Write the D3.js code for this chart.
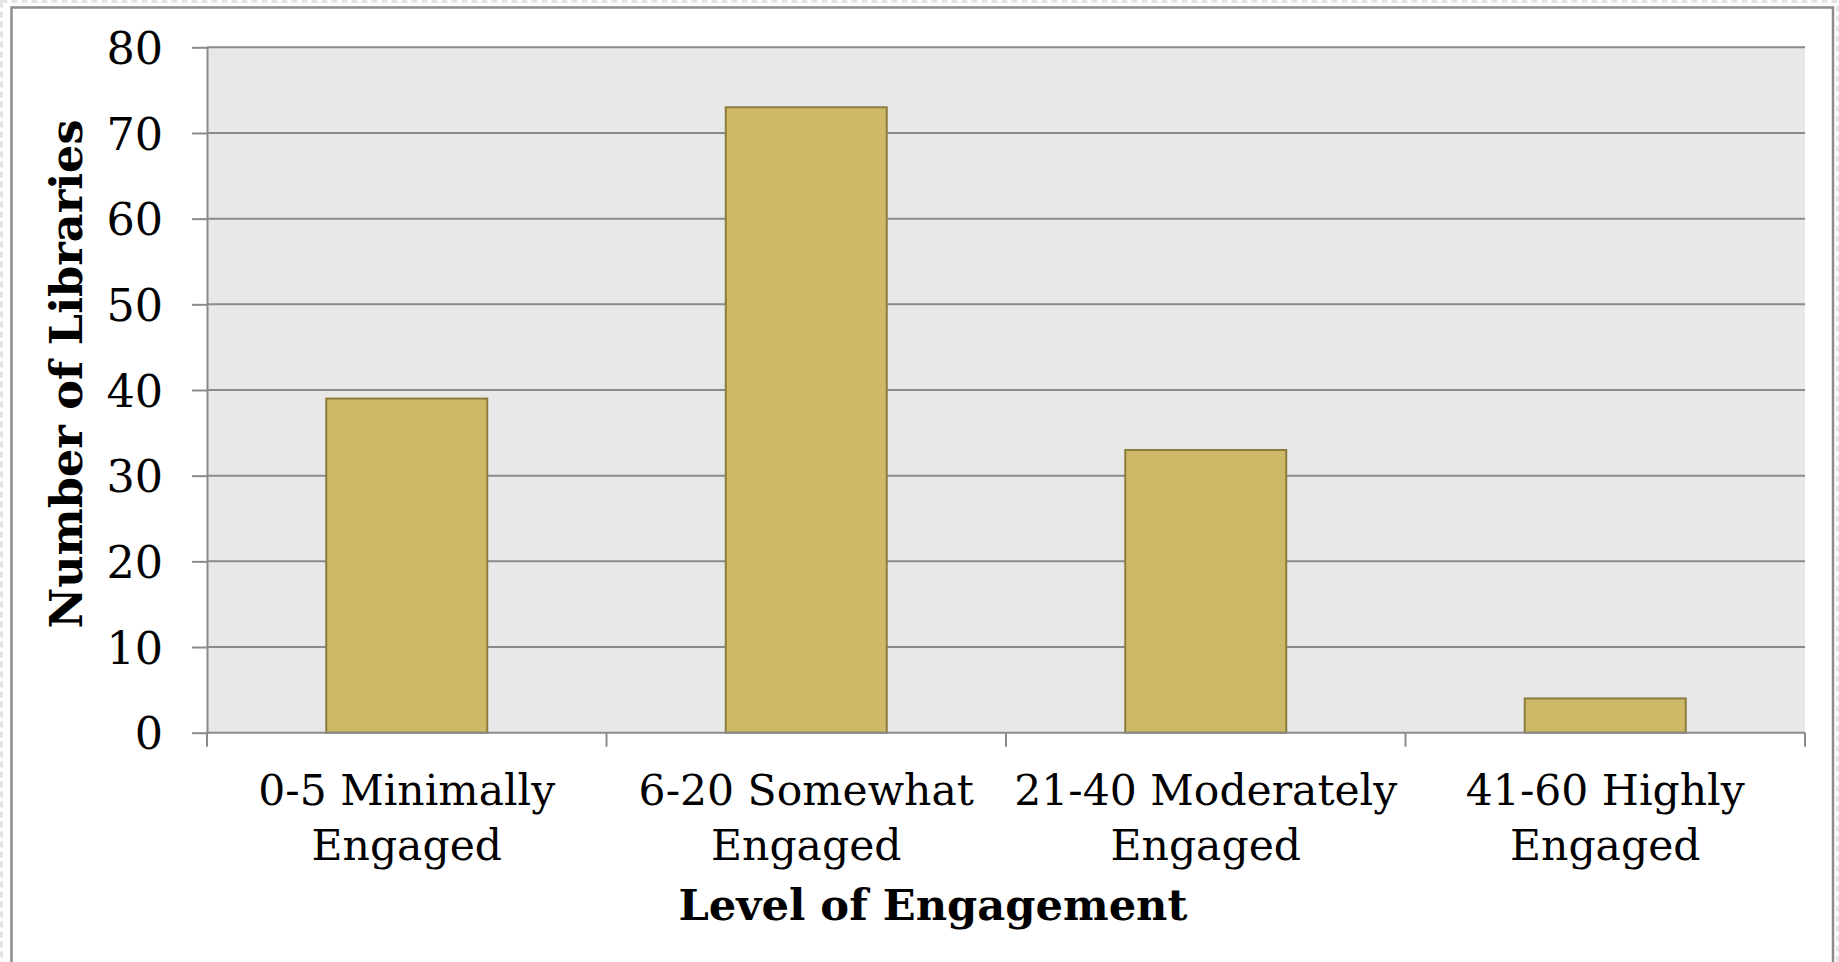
<!DOCTYPE html>
<html>
<head>
<meta charset="utf-8">
<script src="https://cdn.jsdelivr.net/npm/d3@7"></script>
<style>
  html, body { margin: 0; padding: 0; background: #ffffff; }
  svg { display: block; }
</style>
</head>
<body>
<svg id="chart" width="1839" height="962"></svg>
<script>
// Survey result: how engaged libraries are, grouped by score band
const categories = [
  ["0-5 Minimally", "Engaged"],
  ["6-20 Somewhat", "Engaged"],
  ["21-40 Moderately", "Engaged"],
  ["41-60 Highly", "Engaged"]
];
const libraryCounts = [39, 73, 33, 4];
const yTicks = [0, 10, 20, 30, 40, 50, 60, 70, 80];
const xTitle = "Level of Engagement";
const yTitle = "Number of Libraries";

const W = 1839, H = 962;
const plot = { left: 207, right: 1805, top: 47.3, bottom: 732.7 };
const FONT = "'DejaVu Serif', 'Liberation Serif', serif";

const svg = d3.select("#chart");

// faint dotted frame round the whole chart object
svg.append("rect")
  .attr("x", 1.5).attr("y", 1.5)
  .attr("width", W - 3).attr("height", H + 20)
  .attr("fill", "none")
  .attr("stroke", "#e4e4e4")
  .attr("stroke-width", 3)
  .attr("stroke-dasharray", "6,4");

// chart border
svg.append("rect")
  .attr("x", 11.5).attr("y", 7.5)
  .attr("width", 1833 - 11.5).attr("height", H + 20)
  .attr("fill", "#ffffff")
  .attr("stroke", "#8c8c8c")
  .attr("stroke-width", 2.5);

const keys = categories.map(c => c.join(" "));

const x = d3.scaleBand()
  .domain(keys)
  .range([plot.left, plot.right])
  .paddingInner(0.597)
  .paddingOuter(0.2985);

const y = d3.scaleLinear()
  .domain([0, 80])
  .range([plot.bottom, plot.top]);

// plot background
svg.append("rect")
  .attr("x", plot.left).attr("y", plot.top)
  .attr("width", plot.right - plot.left)
  .attr("height", plot.bottom - plot.top)
  .attr("fill", "#e8e8e8");

// horizontal gridlines
svg.append("g")
  .selectAll("line")
  .data(yTicks.filter(t => t > 0))
  .join("line")
  .attr("x1", plot.left).attr("x2", plot.right)
  .attr("y1", d => y(d)).attr("y2", d => y(d))
  .attr("stroke", "#8a8a8a")
  .attr("stroke-width", 2);

// bars
svg.append("g")
  .selectAll("rect")
  .data(libraryCounts)
  .join("rect")
  .attr("x", (d, i) => x(keys[i]))
  .attr("y", d => y(d))
  .attr("width", x.bandwidth())
  .attr("height", d => y(0) - y(d))
  .attr("fill", "#cdb967")
  .attr("stroke", "#8c7c3e")
  .attr("stroke-width", 2);

// y axis
const yAxis = svg.append("g")
  .attr("transform", `translate(${plot.left},0)`)
  .call(d3.axisLeft(y).tickValues(yTicks).tickSize(15).tickSizeOuter(0).tickPadding(29));
yAxis.select(".domain").attr("stroke", "#8a8a8a").attr("stroke-width", 2);
yAxis.selectAll(".tick line").attr("stroke", "#8a8a8a").attr("stroke-width", 2);
yAxis.selectAll(".tick text")
  .attr("font-family", FONT)
  .attr("font-size", 44.5)
  .attr("fill", "#000")
  .attr("dy", "0.36em");

// x axis: baseline plus boundary ticks between categories
const step = x.step();
const boundaries = d3.range(keys.length + 1).map(i => plot.left + i * step);
const xAxis = svg.append("g");
xAxis.append("line")
  .attr("x1", plot.left).attr("x2", plot.right)
  .attr("y1", y(0)).attr("y2", y(0))
  .attr("stroke", "#8a8a8a").attr("stroke-width", 2);
xAxis.selectAll("line.tick")
  .data(boundaries)
  .join("line")
  .attr("class", "tick")
  .attr("x1", d => d).attr("x2", d => d)
  .attr("y1", y(0)).attr("y2", y(0) + 14)
  .attr("stroke", "#8a8a8a").attr("stroke-width", 2);

// category labels (two lines each)
const catLabels = svg.append("g")
  .attr("font-family", FONT)
  .attr("font-size", 42.5)
  .attr("fill", "#000")
  .attr("text-anchor", "middle");
categories.forEach((lines, i) => {
  const cx = x(keys[i]) + x.bandwidth() / 2;
  const t = catLabels.append("text").attr("x", cx);
  lines.forEach((ln, j) => {
    t.append("tspan").attr("x", cx).attr("y", 805 + j * 55).text(ln);
  });
});

// axis titles
svg.append("text")
  .attr("x", 933)
  .attr("y", 920)
  .attr("text-anchor", "middle")
  .attr("font-family", FONT)
  .attr("font-weight", "bold")
  .attr("font-size", 43.2)
  .attr("fill", "#000")
  .text(xTitle);

svg.append("text")
  .attr("transform", `translate(82,374) rotate(-90)`)
  .attr("text-anchor", "middle")
  .attr("font-family", FONT)
  .attr("font-weight", "bold")
  .attr("font-size", 44.6)
  .attr("fill", "#000")
  .text(yTitle);
</script>
</body>
</html>
